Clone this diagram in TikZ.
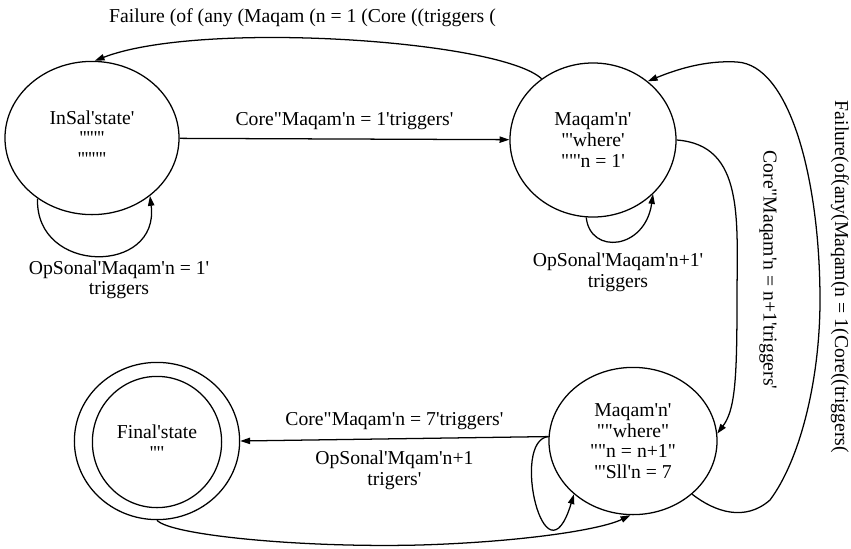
\documentclass[tikz,border=0pt]{standalone}
\usepackage{fontspec}
\setmainfont{Liberation Serif}[Ligatures=TeXOff]
\usepackage{tikz}
\usetikzlibrary{positioning}
\usetikzlibrary{shapes.geometric}
\usetikzlibrary{arrows.meta}

\begin{document}
\begin{tikzpicture}[x=0.025cm, y=-0.025cm, line width=0.9pt, >={Triangle[length=7pt, width=4.5pt]},
		every node/.style={font=\fontsize{14}{14.7}\selectfont},
		state/.style={ellipse, draw, inner sep=0pt, align=center},
		lbl/.style={align=center, inner sep=2pt}]
			    		\useasboundingbox (0,0) rectangle (851,548);
			    		\node[state, minimum width=4.35cm, minimum height=3.83cm] (insal) at (92,138) {InSal'state'\\'''''''\\''''''''};
			    		\node[state, minimum width=4.15cm, minimum height=3.85cm] (maqam1) at (593,140) {Maqam'n'\\"'where'\\""'n = 1'};
			    		\node[state, minimum width=4.2cm, minimum height=3.68cm] (maqam2) at (633,441) {Maqam'n'\\""where"\\""n = n+1"\\"'Sll'n = 7};
			    		\node[state, minimum width=4.13cm, minimum height=3.93cm] (final) at (157,441) {};
			    		\node[state, minimum width=3.23cm, minimum height=3.28cm] (finalin) at (157,442) {Final'state\\''''};
			    		\draw[->] (insal) -- (maqam1) node[lbl, midway, above=4pt] {Core"Maqam'n = 1'triggers'};
			    		\draw[->] (maqam1.130) .. controls (500,40) and (200,20) .. (insal.88) node[lbl, pos=0.57, above=6pt] {Failure (of (any (Maqam (n = 1 (Core ((triggers (};
			    		\draw[->] (insal.228) .. controls (35,275) and (160,275) .. (insal.-45) node[lbl, pos=0.5, below=1pt, xshift=16pt] {OpSonal'Maqam'n = 1'\\triggers};
			    		\draw[->] (maqam1.265) .. controls (590,255) and (645,250) .. (maqam1.-42) node[lbl, pos=0.5, below=6pt] {OpSonal'Maqam'n+1'\\triggers};
			    		\draw[->] (maqam1.east) .. controls (745,145) and (737,220) .. (737,300) .. controls (737,380) and (735,410) .. (maqam2.5);
			    		\node[lbl, rotate=-90] (corelbl) at (768,270) {Core"Maqam'n = n+1'triggers'};
			    		\draw[->] (maqam2.-42) .. controls (715,512) and (745,522) .. (770,500) .. controls (800,460) and (820,380) .. (820,300) .. controls (820,180) and (790,65) .. (737,62) .. controls (705,60) and (675,70) .. (maqam1.47);
			    		\node[lbl, rotate=-90, inner sep=0pt] (faillbl) at (840,277) {Failure(of(any(Maqam(n = 1(Core((triggers(};
			    		\draw[->] (maqam2.177) -- (final.east) node[lbl, midway, above=4pt] {Core"Maqam'n = 7'triggers'} node[lbl, midway, below=6pt] {OpSonal'Mqam'n+1\\trigers'};
			    		\draw[->] (maqam2.177) .. controls (510,440) and (545,590) .. (maqam2.222);
			    		\draw[->] (final.south) .. controls (170,535) and (300,548) .. (420,545) .. controls (520,542) and (600,530) .. (maqam2.-92);
			    	\end{tikzpicture}
\end{document}
